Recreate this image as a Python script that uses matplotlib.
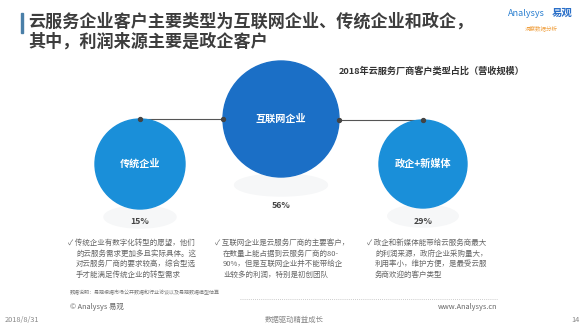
import matplotlib.pyplot as plt
from matplotlib.patches import Circle, Rectangle, Ellipse

plt.rcParams['font.family'] = ['Noto Sans CJK SC', 'DejaVu Sans']

# customer types and revenue share (%)
categories = ['传统企业', '互联网企业', '政企+新媒体']
shares = [15, 56, 29]

title_lines = ['云服务企业客户主要类型为互联网企业、传统企业和政企，',
               '其中，利润来源主要是政企客户']
subtitle = '2018年云服务厂商客户类型占比（营收规模）'

notes = [
    ['✓ 传统企业有数字化转型的愿望，他们', '的云服务需求更加多且实际具体。这',
     '对云服务厂商的要求较高，综合型选', '手才能满足传统企业的转型需求'],
    ['✓ 互联网企业是云服务厂商的主要客户，', '在数量上能占据到云服务厂商的80-',
     '90%，但是互联网企业并不能带给企', '业较多的利润，特别是初创团队'],
    ['✓ 政企和新媒体能带给云服务商最大', '的利润来源，政府企业采购量大，',
     '利用率小，维护方便，是最受云服', '务商欢迎的客户类型'],
]

# layout (pixel coordinates, y down)
centers = [(140, 164), (281, 119), (423, 164)]
radii = [45, 58, 44]
colors = ['#1a8fd9', '#1b6fc6', '#1a8fd9']
pct_y = [221, 205, 221]
note_x = [68, 215, 367]

fig = plt.figure(figsize=(5.88, 3.25), dpi=100)
ax = fig.add_axes([0, 0, 1, 1])
ax.set_xlim(0, 588)
ax.set_ylim(325, 0)
ax.axis('off')

# accent bar and title
ax.add_patch(Rectangle((21, 13), 2.2, 20, color='#4a7fa8'))
ax.text(28, 22, title_lines[0], fontsize=12.3, fontweight='bold', color='#3d3d3d', va='center')
ax.text(28, 42, title_lines[1], fontsize=12.3, fontweight='bold', color='#3d3d3d', va='center')

# logo
ax.text(508, 13, 'Analysys', fontsize=6.5, style='italic', color='#2a7fd0', va='center')
ax.text(552, 13, '易观', fontsize=7.5, fontweight='bold', color='#2a6fc8', va='center')
ax.text(525, 28, '洞察数据分析', fontsize=4, color='#f0a040', va='center')

ax.text(432, 71, subtitle, fontsize=6.6, fontweight='bold', color='#333333', ha='center', va='center')

# faint ground shapes under bubbles
for (cx, cy), r in zip(centers, radii):
    ax.add_patch(Ellipse((cx, cy + r + 8), r * 1.6, 22, color='#f6f7f8', zorder=1))

# connectors
c0, c1, c2 = centers
ax.plot([c0[0], c1[0] - radii[1]], [c0[1] - radii[0]] * 2, color='#555555', lw=0.8, zorder=2)
ax.plot([c1[0] + radii[1], c2[0]], [c2[1] - radii[2]] * 2, color='#555555', lw=0.8, zorder=2)
ax.scatter([c0[0], c1[0] - radii[1], c1[0] + radii[1], c2[0]],
           [c0[1] - radii[0], c0[1] - radii[0], c2[1] - radii[2], c2[1] - radii[2]],
           s=8, color='#444444', zorder=4)

# bubbles
for (cx, cy), r, col, name, share, py in zip(centers, radii, colors, categories, shares, pct_y):
    ax.add_patch(Circle((cx, cy), r, color=col, zorder=3))
    ax.text(cx, cy, name, fontsize=7.3, fontweight='bold', color='white',
            ha='center', va='center', zorder=5)
    ax.text(cx, py, f'{share}%', fontsize=6.3, fontweight='bold', color='#444444',
            ha='center', va='center')

# notes
for x, lines in zip(note_x, notes):
    for i, line in enumerate(lines):
        ax.text(x if i == 0 else x + 8, 243 + i * 10.5, line, fontsize=5.4,
                color='#666666', va='center')

# footer
ax.text(70, 293, '数据说明：易观根据市场公开数据和行业访谈以及易观数据模型估算', fontsize=3.6,
        color='#777777', va='center')
ax.plot([240, 497], [299, 299], color='#bbbbbb', lw=0.6, ls=(0, (1, 1.5)))
ax.text(70, 307, '© Analysys 易观', fontsize=5.3, color='#666666', va='center')
ax.text(497, 307, 'www.Analysys.cn', fontsize=5.3, color='#666666', va='center', ha='right')
ax.text(5, 320, '2018/8/31', fontsize=5.3, color='#888888', va='center')
ax.text(294, 320, '数据驱动精益成长', fontsize=5.3, color='#888888', va='center', ha='center')
ax.text(580, 320, '14', fontsize=5.3, color='#888888', va='center', ha='right')

fig.savefig('out.png', dpi=100)
